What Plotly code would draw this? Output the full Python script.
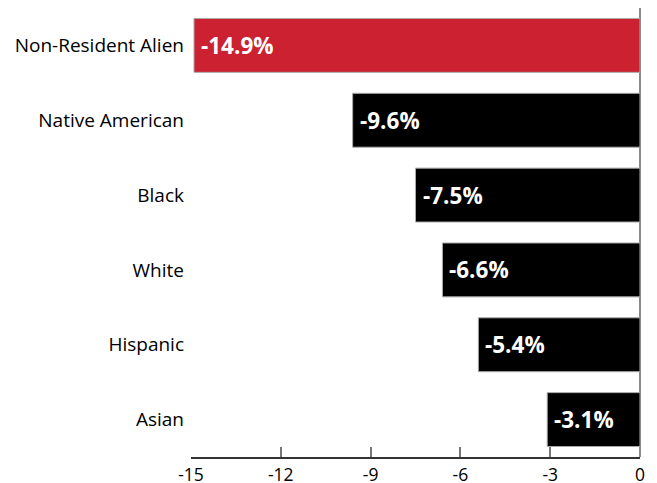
import plotly.graph_objects as go

categories = ["Non-Resident Alien", "Native American", "Black", "White", "Hispanic", "Asian"]
values = [-14.9, -9.6, -7.5, -6.6, -5.4, -3.1]
labels = ["-14.9%", "-9.6%", "-7.5%", "-6.6%", "-5.4%", "-3.1%"]
colors = ["#CC2131", "#000000", "#000000", "#000000", "#000000", "#000000"]
tick_vals = [-15, -12, -9, -6, -3, 0]
tick_text = ["-15", "-12", "-9", "-6", "-3", "0"]

FONT = "Open Sans"

fig = go.Figure()
fig.add_trace(go.Bar(
    x=values, y=categories, orientation="h",
    marker=dict(color=colors, line=dict(color="#aaaaaa", width=1)),
    width=0.72, hoverinfo="skip",
))

for c, v, t in zip(categories, values, labels):
    fig.add_annotation(x=v, y=c, text="<b>%s</b>" % t, showarrow=False,
                       xanchor="left", xshift=5, yshift=0,
                       font=dict(family=FONT, size=22.5, color="white"))

# page body has an 8px default margin, so the figure is sized to fit the window
fig.update_layout(
    width=649, height=475,
    margin=dict(l=183, r=17, t=0, b=25.5),
    paper_bgcolor="white", plot_bgcolor="white",
    showlegend=False,
    font=dict(family=FONT, color="black"),
    xaxis=dict(range=[-15, 0], tickvals=tick_vals, ticktext=tick_text,
               automargin=False,
               showgrid=False, zeroline=True, zerolinecolor="#888888", zerolinewidth=1.5,
               showline=True, linecolor="#333333", linewidth=1.5,
               ticks="inside", ticklen=10, tickcolor="#777777", tickwidth=1.5,
               ticklabelstandoff=1,
               tickfont=dict(family=FONT, size=17.5, color="black")),
    yaxis=dict(categoryorder="array", categoryarray=categories, autorange="reversed",
               automargin=False,
               showgrid=False, zeroline=False, showline=False, ticks="",
               ticklabelstandoff=6,
               tickfont=dict(family=FONT, size=19, color="black")),
)

fig.write_html("out.html")
